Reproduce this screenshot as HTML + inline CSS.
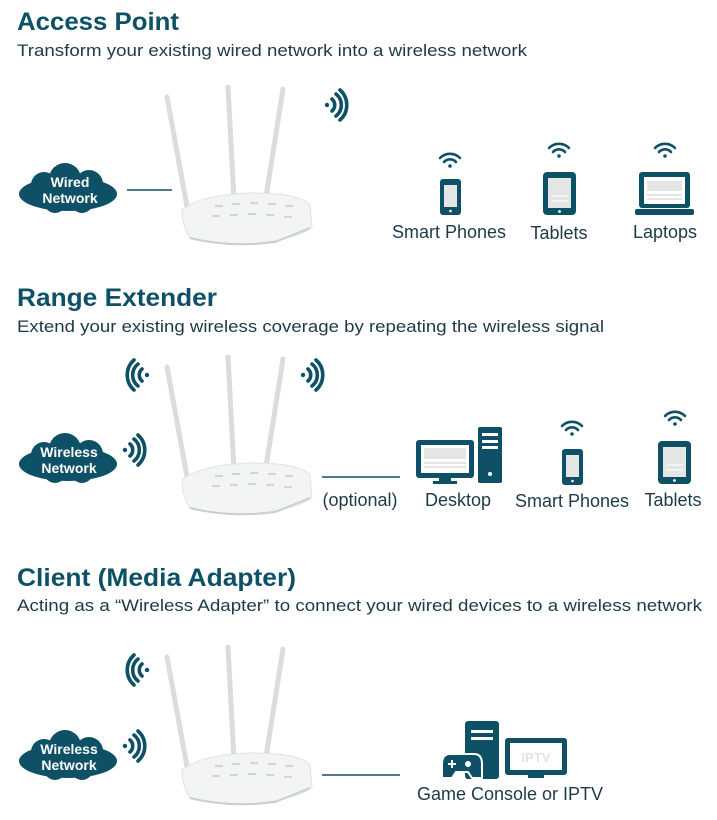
<!DOCTYPE html>
<html><head><meta charset="utf-8"><style>
html,body{margin:0;padding:0;background:#fff;}
svg{display:block;}
.t{font-family:"Liberation Sans",sans-serif;font-weight:bold;font-size:25px;fill:#0e5066;}
.s{font-family:"Liberation Sans",sans-serif;font-size:17px;fill:#1d3a45;}
.l{font-family:"Liberation Sans",sans-serif;font-size:18px;fill:#1d3a45;text-anchor:middle;}
.c{font-family:"Liberation Sans",sans-serif;font-weight:bold;font-size:14px;fill:#fff;text-anchor:middle;}
</style></head><body>
<svg width="717" height="820" viewBox="0 0 717 820" xmlns="http://www.w3.org/2000/svg">
<defs>
<g id="router">
  <line x1="167" y1="97" x2="188" y2="212" stroke="#d9dddd" stroke-width="5" stroke-linecap="round"/>
  <line x1="228" y1="87" x2="234" y2="200" stroke="#d9dddd" stroke-width="5" stroke-linecap="round"/>
  <line x1="283" y1="89" x2="266" y2="197" stroke="#d9dddd" stroke-width="5" stroke-linecap="round"/>
  <path d="M182 210 Q200 195 250 193 Q300 193 310 205 L312 227 Q300 238 260 243 Q220 246 190 238 Q182 225 182 210Z" fill="#f3f5f5" stroke="#dfe3e3" stroke-width="1"/>
  <path d="M190 238 Q230 248 275 242 L310 228" fill="none" stroke="#c9cfcf" stroke-width="2"/>
  <g fill="#d0d6d6"><rect x="215" y="205" width="8" height="2"/><rect x="232" y="203" width="8" height="2"/><rect x="250" y="202" width="8" height="2"/><rect x="268" y="203" width="8" height="2"/><rect x="285" y="205" width="8" height="2"/><rect x="212" y="215" width="8" height="2"/><rect x="230" y="214" width="8" height="2"/><rect x="248" y="213" width="8" height="2"/><rect x="266" y="214" width="8" height="2"/><rect x="284" y="216" width="8" height="2"/></g>
</g>
<g id="cloud" fill="#0e5066">
  <ellipse cx="0" cy="4" rx="49" ry="17"/>
  <circle cx="-24" cy="-5" r="13"/><circle cx="-3" cy="-11" r="16"/><circle cx="21" cy="-6" r="14"/>
  <circle cx="-13" cy="12" r="11"/><circle cx="14" cy="12" r="11"/>
</g>
<g id="wr" fill="none" stroke="#0e5066" stroke-width="3.6" stroke-linecap="round">
  <circle cx="0" cy="0" r="2.2" fill="#0e5066" stroke="none"/>
  <path d="M5 -6 A8 8 0 0 1 5 6"/><path d="M9 -11 A14 14 0 0 1 9 11"/><path d="M13 -15 A20 20 0 0 1 13 15"/>
</g>
<g id="wsmall" fill="none" stroke="#0e5066" stroke-width="2.6" stroke-linecap="round">
  <path d="M-10 -4 A14 14 0 0 1 10 -4"/><path d="M-6 0 A8 8 0 0 1 6 0"/><circle cx="0" cy="4" r="1.8" fill="#0e5066" stroke="none"/>
</g>
<g id="phone">
  <rect x="0" y="0" width="21" height="36" rx="3" fill="#0e5066"/>
  <rect x="4" y="6" width="13" height="22" fill="#e4e6e6"/>
  <circle cx="10.5" cy="32" r="1.3" fill="#fff"/>
</g>
<g id="tablet">
  <rect x="0" y="0" width="33" height="43" rx="4" fill="#0e5066"/>
  <rect x="5" y="6" width="23" height="30" fill="#e4e6e6"/>
  <line x1="8" y1="24" x2="25" y2="24" stroke="#fff"/><line x1="8" y1="29" x2="25" y2="29" stroke="#fff"/>
  <circle cx="16.5" cy="39.5" r="1.4" fill="#fff"/>
</g>
</defs>

<!-- Section 1 -->
<text class="t" x="17" y="30" textLength="162" lengthAdjust="spacingAndGlyphs">Access Point</text>
<text class="s" x="17" y="56" textLength="510" lengthAdjust="spacingAndGlyphs">Transform your existing wired network into a wireless network</text>
<use href="#router"/>
<use href="#wr" x="327" y="105"/>
<use href="#cloud" x="68" y="190"/>
<text class="c" x="70" y="187">Wired</text><text class="c" x="70" y="203">Network</text>
<line x1="127" y1="190" x2="172" y2="190" stroke="#0e5066" stroke-width="1.5"/>
<use href="#wsmall" x="450" y="162"/>
<use href="#phone" x="440" y="179"/>
<use href="#wsmall" x="559" y="152"/>
<use href="#tablet" x="543" y="172"/>
<use href="#wsmall" x="665" y="152"/>
<rect x="639" y="172" width="51" height="36" rx="3" fill="#0e5066"/>
<rect x="644" y="177" width="41" height="27" fill="#fff"/>
<rect x="647" y="181" width="35" height="10" fill="#e4e6e6"/><rect x="647" y="194" width="35" height="2" fill="#e4e6e6"/><rect x="647" y="198" width="35" height="2" fill="#e4e6e6"/>
<rect x="635" y="209" width="59" height="6" rx="2" fill="#0e5066"/>
<text class="l" x="449" y="238">Smart Phones</text>
<text class="l" x="559" y="239">Tablets</text>
<text class="l" x="665" y="238">Laptops</text>

<!-- Section 2 -->
<text class="t" x="17" y="306" textLength="200" lengthAdjust="spacingAndGlyphs">Range Extender</text>
<text class="s" x="17" y="332" textLength="587" lengthAdjust="spacingAndGlyphs">Extend your existing wireless coverage by repeating the wireless signal</text>
<use href="#router" y="270"/>
<use href="#wr" transform="translate(147 375) scale(-1 1)"/>
<use href="#wr" x="303" y="375"/>
<use href="#wr" x="125" y="450"/>
<use href="#cloud" x="68" y="460"/>
<text class="c" x="69" y="457">Wireless</text><text class="c" x="69" y="473">Network</text>
<line x1="322" y1="477" x2="400" y2="477" stroke="#0e5066" stroke-width="1.5"/>
<rect x="416" y="440" width="58" height="38" rx="3" fill="#0e5066"/>
<rect x="421" y="445" width="48" height="28" fill="#fff"/>
<rect x="424" y="448" width="42" height="11" fill="#e4e6e6"/><rect x="424" y="462" width="42" height="2" fill="#e4e6e6"/><rect x="424" y="466" width="42" height="2" fill="#e4e6e6"/>
<rect x="439" y="478" width="12" height="4" fill="#0e5066"/><rect x="433" y="481" width="24" height="3" fill="#0e5066"/>
<rect x="478" y="427" width="24" height="56" rx="2" fill="#0e5066"/>
<rect x="482" y="433" width="16" height="3" fill="#fff"/><rect x="482" y="440" width="16" height="3" fill="#fff"/><rect x="482" y="446" width="16" height="3" fill="#fff"/>
<circle cx="490" cy="474" r="2" fill="#fff"/>
<use href="#wsmall" x="572" y="430"/>
<use href="#phone" x="562" y="449"/>
<use href="#wsmall" x="675" y="420"/>
<use href="#tablet" x="658" y="441"/>
<text class="l" x="360" y="506">(optional)</text>
<text class="l" x="458" y="506">Desktop</text>
<text class="l" x="572" y="507">Smart Phones</text>
<text class="l" x="673" y="506">Tablets</text>

<!-- Section 3 -->
<text class="t" x="17" y="586" textLength="279" lengthAdjust="spacingAndGlyphs">Client (Media Adapter)</text>
<text class="s" x="17" y="611" textLength="685" lengthAdjust="spacingAndGlyphs">Acting as a “Wireless Adapter” to connect your wired devices to a wireless network</text>
<use href="#router" y="560"/>
<use href="#wr" transform="translate(147 670) scale(-1 1)"/>
<use href="#wr" x="125" y="746"/>
<use href="#cloud" x="68" y="757"/>
<text class="c" x="69" y="754">Wireless</text><text class="c" x="69" y="770">Network</text>
<line x1="322" y1="775" x2="400" y2="775" stroke="#0e5066" stroke-width="1.5"/>
<rect x="465" y="721" width="34" height="58" rx="3" fill="#0e5066"/>
<rect x="471" y="730" width="22" height="3" fill="#fff"/><rect x="471" y="737" width="22" height="3" fill="#fff"/>
<path d="M442 764 Q442 754 450 754 L474 754 Q482 754 482 764 L482 778 L472 778 L468 772 L456 772 L452 778 L442 778Z" fill="#0e5066" stroke="#fff" stroke-width="2"/>
<rect x="448" y="763" width="8" height="2" fill="#fff"/><rect x="451" y="760" width="2" height="8" fill="#fff"/>
<circle cx="468" cy="764" r="3" fill="#fff"/>
<rect x="505" y="738" width="62" height="37" rx="3" fill="#0e5066"/>
<rect x="510" y="743" width="52" height="27" fill="#fff"/>
<text x="536" y="762" font-family="Liberation Sans,sans-serif" font-weight="bold" font-size="13" fill="#e2e4e4" text-anchor="middle">IPTV</text>
<rect x="528" y="775" width="16" height="3" fill="#0e5066"/>
<text class="l" x="510" y="800">Game Console or IPTV</text>
</svg>
</body></html>
